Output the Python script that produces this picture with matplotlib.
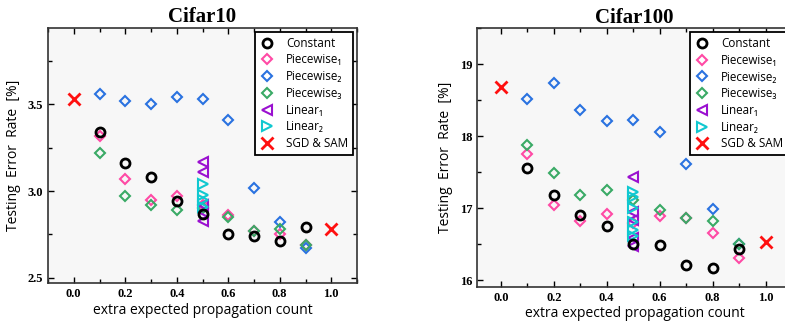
import matplotlib
matplotlib.use('Agg')
import matplotlib.pyplot as plt
from matplotlib.ticker import MultipleLocator

x_steps = [0.1, 0.2, 0.3, 0.4, 0.5, 0.6, 0.7, 0.8, 0.9]
x_sgd = [0.0, 1.0]

# Cifar10
c10_constant = [3.34, 3.16, 3.08, 2.94, 2.87, 2.75, 2.74, 2.71, 2.79]
c10_pw1 = [3.32, 3.07, 2.95, 2.97, 2.92, 2.86, 2.77, 2.75, 2.69]
c10_pw2 = [3.56, 3.52, 3.50, 3.54, 3.53, 3.41, 3.02, 2.82, 2.67]
c10_pw3 = [3.22, 2.97, 2.92, 2.89, 2.90, 2.85, 2.77, 2.78, 2.69]
c10_lin1 = [3.17, 3.11, 2.92, 2.88, 2.83]
c10_lin2 = [3.04, 2.98, 2.95, 2.91]
c10_sgd = [3.53, 2.78]

# Cifar100
c100_constant = [17.56, 17.19, 16.90, 16.76, 16.51, 16.49, 16.21, 16.17, 16.44]
c100_pw1 = [17.76, 17.05, 16.82, 16.92, 16.80, 16.89, 16.86, 16.65, 16.31]
c100_pw2 = [18.52, 18.74, 18.36, 18.21, 18.23, 18.06, 17.62, 16.99, 16.50]
c100_pw3 = [17.88, 17.49, 17.18, 17.25, 17.12, 16.97, 16.87, 16.82, 16.50]
c100_lin1 = [17.44, 16.95, 16.83, 16.58, 16.47]
c100_lin2 = [17.23, 17.15, 17.00, 16.81, 16.70, 16.62]
c100_sgd = [18.69, 16.53]

labels = ['Constant', 'Piecewise\u2081', 'Piecewise\u2082', 'Piecewise\u2083',
          'Linear\u2081', 'Linear\u2082', 'SGD & SAM']

sans = ['Open Sans', 'DejaVu Sans']
serif = 'Liberation Serif'

fig = plt.figure(figsize=(7.85, 3.21), dpi=100)
ax1 = fig.add_axes([48/785, 38/321, 309/785, 255/321])
ax2 = fig.add_axes([477/785, 34.3/321, 315/785, 258.4/321])


def draw(ax, const, pw1, pw2, pw3, lin1, lin2, sgd, title, ylim, major, minor, xlim):
    ms = 6.5
    mew = 1.5
    ax.set_facecolor('#f7f7f7')
    h = []
    h.append(ax.plot(x_steps, const, 'o', ms=ms, mfc='none', mec='black', mew=2, zorder=6)[0])
    h.append(ax.plot(x_steps, pw1, 'D', ms=5.5, mfc='none', mec='#ff4aa5', mew=mew, zorder=2)[0])
    h.append(ax.plot(x_steps, pw2, 'D', ms=5.5, mfc='none', mec='#2a72e0', mew=mew, zorder=2)[0])
    h.append(ax.plot(x_steps, pw3, 'D', ms=5.5, mfc='none', mec='#3aaa66', mew=mew, zorder=3)[0])
    h.append(ax.plot([0.5] * len(lin1), lin1, '<', ms=ms, mfc='none', mec='#9a10d0', mew=mew, zorder=4)[0])
    h.append(ax.plot([0.5] * len(lin2), lin2, '>', ms=ms, mfc='none', mec='#10c8d0', mew=mew, zorder=5)[0])
    h.append(ax.plot(x_sgd, sgd, 'x', ms=8, mec='#ff1010', mew=2, zorder=7)[0])

    ax.set_xlim(*xlim)
    ax.set_ylim(*ylim)
    ax.xaxis.set_major_locator(MultipleLocator(0.2))
    ax.xaxis.set_minor_locator(MultipleLocator(0.1))
    ax.yaxis.set_major_locator(MultipleLocator(major))
    ax.yaxis.set_minor_locator(MultipleLocator(minor))
    ax.tick_params(which='both', direction='in', top=True, right=True, width=1)
    ax.tick_params(which='major', length=4)
    ax.tick_params(which='minor', length=3)
    for lab in ax.get_xticklabels() + ax.get_yticklabels():
        lab.set_fontfamily(serif)
        lab.set_fontweight('bold')
        lab.set_fontsize(9)
    ax.xaxis.set_major_formatter(plt.FuncFormatter(lambda v, p: f'{v:.1f}'))
    for s in ax.spines.values():
        s.set_linewidth(1.2)
        s.set_color('#333333')

    ax.set_title(title, fontfamily=serif, fontweight='bold', fontsize=15, pad=4)
    ax.set_xlabel('extra expected propagation count', fontfamily=sans, fontsize=10, labelpad=2)
    ax.set_ylabel('Testing  Error  Rate  [%]', fontfamily=sans, fontsize=10, labelpad=5)

    leg = ax.legend(h, labels, loc='upper right', prop={'family': sans, 'size': 8.4},
                    frameon=True, fancybox=False, edgecolor='black', framealpha=1,
                    borderpad=0.4, labelspacing=0.32, handletextpad=0.9,
                    borderaxespad=0.35, handlelength=1.4)
    leg.get_frame().set_linewidth(1.3)
    leg.get_frame().set_facecolor('white')


draw(ax1, c10_constant, c10_pw1, c10_pw2, c10_pw3, c10_lin1, c10_lin2, c10_sgd,
     'Cifar10', (2.47, 3.94), 0.5, 0.25, (-0.1, 1.1))
draw(ax2, c100_constant, c100_pw1, c100_pw2, c100_pw3, c100_lin1, c100_lin2, c100_sgd,
     'Cifar100', (15.91, 19.5), 1, 0.5, (-0.09, 1.1))

fig.savefig('out.png', dpi=100)
